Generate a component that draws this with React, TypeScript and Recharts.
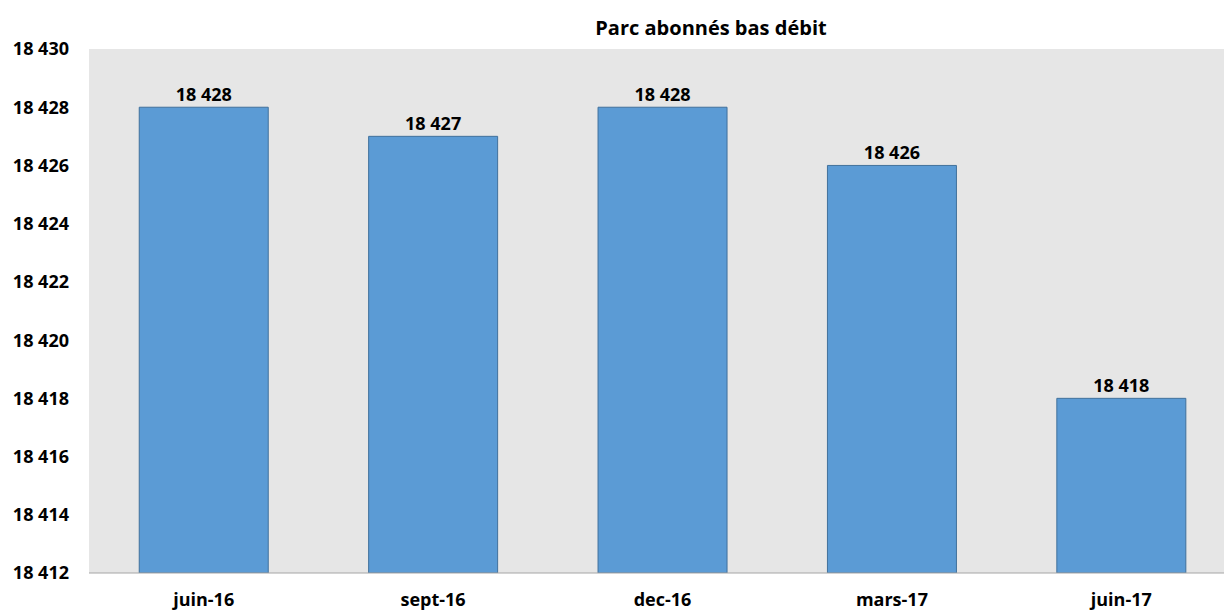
import { BarChart, Bar, XAxis, YAxis, CartesianGrid, LabelList } from "recharts";

const periods = ["juin-16", "sept-16", "dec-16", "mars-17", "juin-17"];
const abonnes = [18428, 18427, 18428, 18426, 18418];
const yTicks = [18412, 18414, 18416, 18418, 18420, 18422, 18424, 18426, 18428, 18430];

const data = periods.map((p, i) => ({ period: p, value: abonnes[i] }));

const fmt = (v: number) => `${Math.floor(v / 1000)} ${String(v % 1000).padStart(3, "0")}`;

const font = "'Open Sans', sans-serif";
const textStyle = { fill: "#000", fontSize: 18, fontWeight: 700, fontFamily: font };

export default function App() {
  return (
    <div
      style={{
        position: "absolute",
        left: 0,
        top: 0,
        width: 1224,
        height: 611,
        overflow: "hidden",
        background: "#fff",
        fontFamily: font,
      }}
    >
      <div
        style={{
          position: "absolute",
          top: 14,
          left: 0,
          width: 1422,
          textAlign: "center",
          fontWeight: 700,
          fontSize: 20,
          color: "#000",
        }}
      >
        Parc abonnés bas débit
      </div>
      <BarChart
        width={1236}
        height={611}
        data={data}
        margin={{ top: 49, right: 0, bottom: 8, left: 0 }}
        barCategoryGap="21.9%"
      >
        <CartesianGrid horizontal={false} vertical={false} fill="#e6e6e6" />
        <XAxis
          dataKey="period"
          tickLine={false}
          axisLine={{ stroke: "#a6a6a6" }}
          tick={textStyle}
          tickMargin={14}
          interval={0}
        />
        <YAxis
          domain={[18412, 18430]}
          ticks={yTicks}
          width={89}
          tickLine={false}
          axisLine={false}
          tickSize={0}
          tickMargin={20}
          tickFormatter={fmt}
          tick={textStyle}
          allowDataOverflow
        />
        <Bar dataKey="value" fill="#5b9bd5" stroke="#41719c" strokeWidth={1} isAnimationActive={false}>
          <LabelList
            dataKey="value"
            position="top"
            offset={6}
            formatter={(v: any) => fmt(Number(v))}
            style={textStyle}
          />
        </Bar>
      </BarChart>
    </div>
  );
}
